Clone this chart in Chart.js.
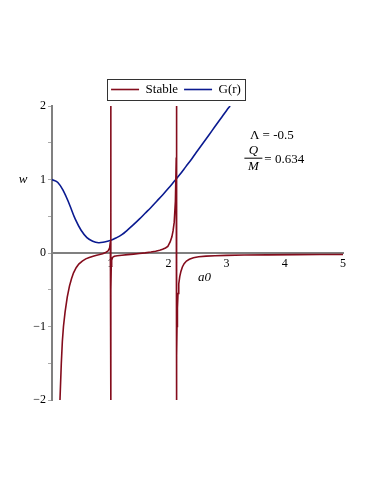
<!DOCTYPE html>
<html lang="en">
<head>
  <meta charset="UTF-8">
  <title>Stable / G(r)</title>
  <script src="https://cdn.jsdelivr.net/npm/chart.js"></script>
  <style>
    body { margin: 0; background: #fff; }
    .wrap { width: 374px; height: 484px; }
  </style>
</head>
<body>
<div class="wrap"><canvas id="plot"></canvas></div>
<script>
// Stable branch w(a0) (poles near a0 = 1.01 and 2.14)
const stableX = [0.137, 0.16, 0.178, 0.197, 0.225, 0.262, 0.3, 0.335, 0.37, 0.415, 0.46, 0.52, 0.58, 0.64, 0.72, 0.8, 0.87, 0.93, 0.965, 0.99, 1.003, 1.01,
  1.01, 1.013, 1.018, 1.025, 1.04, 1.07, 1.12, 1.2, 1.3, 1.4, 1.5, 1.6, 1.7, 1.78, 1.85, 1.9, 1.95, 1.99, 2.03, 2.06, 2.08, 2.1, 2.12, 2.135, 2.14,
  2.14, 2.143, 2.148, 2.155, 2.165, 2.178, 2.195, 2.215, 2.24, 2.27, 2.31, 2.36, 2.43, 2.52, 2.65, 2.8, 3.0, 3.3, 3.7, 4.2, 4.6, 5.0];
const stableW = [-2, -1.5, -1.2, -1.0, -0.8, -0.6, -0.45, -0.35, -0.27, -0.2, -0.15, -0.11, -0.08, -0.06, -0.04, -0.025, -0.01, 0.01, 0.03, 0.07, 0.15, 2,
  -2, -0.5, -0.18, -0.1, -0.06, -0.045, -0.037, -0.03, -0.022, -0.015, -0.007, 0.002, 0.013, 0.025, 0.038, 0.05, 0.068, 0.09, 0.15, 0.22, 0.3, 0.42, 0.7, 1.3, 2,
  -2, -1.4, -1.0, -0.75, -0.55, -0.42, -0.32, -0.25, -0.19, -0.145, -0.11, -0.085, -0.065, -0.052, -0.043, -0.037, -0.032, -0.028, -0.025, -0.022, -0.021, -0.02];

// G(r)
const gX = [0, 0.1, 0.2, 0.3, 0.4, 0.5, 0.6, 0.7, 0.8, 0.9, 1.0, 1.1, 1.2, 1.3, 1.4, 1.5, 1.6, 1.7, 1.8, 1.9, 2.0, 2.1, 2.2, 2.3, 2.4, 2.5, 2.6, 2.7, 2.8, 2.9, 3.0, 3.06];
const gY = [1.0, 0.96, 0.84, 0.66, 0.46, 0.31, 0.21, 0.16, 0.14, 0.15, 0.17, 0.205, 0.25, 0.315, 0.385, 0.46, 0.54, 0.62, 0.705, 0.79, 0.88, 0.975, 1.07, 1.175, 1.28, 1.39, 1.5, 1.61, 1.72, 1.83, 1.94, 2.0];

const xTicks = [0, 1, 2, 3, 4, 5];
const yTicks = [-2, -1, 0, 1, 2];

const serif = 'Liberation Serif';
const red = '#840C1C';
const blue = '#0A1A90';

// legend frame + text labels
const extras = {
  id: 'extras',
  afterDraw(chart) {
    const ctx = chart.ctx;
    const { x, y } = chart.scales;
    const area = chart.chartArea;
    ctx.save();

    const hb = chart.legend.legendHitBoxes;
    if (hb && hb.length) {
      const first = hb[0], last = hb[hb.length - 1];
      ctx.strokeStyle = '#333';
      ctx.lineWidth = 1;
      ctx.strokeRect(Math.round(first.left - 4) + 0.5, Math.round(first.top - 4) + 0.5,
        Math.round(last.left + last.width - first.left + 8), Math.round(first.height + 8));
    }

    ctx.fillStyle = '#000';
    ctx.textBaseline = 'middle';
    ctx.font = 'italic 13px "' + serif + '"';
    ctx.textAlign = 'center';
    ctx.fillText('w', area.left - 29, y.getPixelForValue(1));
    ctx.fillText('a0', x.getPixelForValue(2.62), y.getPixelForValue(-0.34));

    ctx.font = '13px "' + serif + '"';
    ctx.textAlign = 'left';
    ctx.fillText('\u039B = -0.5', x.getPixelForValue(3.4), y.getPixelForValue(1.6));

    const cx = x.getPixelForValue(3.46);
    const by = y.getPixelForValue(1.29);
    ctx.font = 'italic 13px "' + serif + '"';
    ctx.textAlign = 'center';
    ctx.fillText('Q', cx, by - 8);
    ctx.fillText('M', cx, by + 8);
    ctx.fillRect(cx - 9, by - 0.5, 18, 1);
    ctx.font = '13px "' + serif + '"';
    ctx.textAlign = 'left';
    ctx.fillText('= 0.634', cx + 11, by + 1);
    ctx.restore();
  }
};

new Chart(document.getElementById('plot'), {
  type: 'line',
  data: {
    datasets: [
      {
        label: 'Stable',
        data: stableX.map((v, i) => ({ x: v, y: stableW[i] })),
        borderColor: red,
        backgroundColor: red,
        borderWidth: 1.6,
        pointRadius: 0,
        tension: 0
      },
      {
        label: 'G(r)',
        data: gX.map((v, i) => ({ x: v, y: gY[i] })),
        borderColor: blue,
        backgroundColor: blue,
        borderWidth: 1.6,
        pointRadius: 0,
        tension: 0.4
      }
    ]
  },
  options: {
    responsive: true,
    maintainAspectRatio: false,
    animation: false,
    layout: { padding: { top: 77, left: 9, right: 31, bottom: 84 } },
    plugins: {
      legend: {
        labels: {
          usePointStyle: true,
          pointStyle: 'line',
          pointStyleWidth: 28,
          padding: 6,
          color: '#000',
          font: { family: serif, size: 13 }
        }
      },
      tooltip: { enabled: false }
    },
    scales: {
      x: {
        type: 'linear',
        position: { y: 0 },
        min: 0,
        max: 5,
        afterBuildTicks: s => { s.ticks = xTicks.map(v => ({ value: v })); },
        ticks: {
          callback: v => v === 0 ? '' : v,
          color: '#000',
          padding: 4,
          maxRotation: 0,
          font: { family: serif, size: 12 }
        },
        grid: { display: false, drawTicks: false },
        border: { color: '#808080', width: 2 }
      },
      y: {
        type: 'linear',
        position: 'left',
        min: -2,
        max: 2,
        afterFit: s => { s.width = 43; },
        ticks: {
          stepSize: 0.5,
          autoSkip: false,
          callback: v => yTicks.includes(v) ? (v < 0 ? '\u2212' + Math.abs(v) : v) : '',
          color: '#000',
          padding: 2,
          font: { family: serif, size: 12 }
        },
        grid: { drawOnChartArea: false, tickLength: 4, color: '#aaa' },
        border: { color: '#808080', width: 2 }
      }
    }
  },
  plugins: [extras]
});
</script>
</body>
</html>
